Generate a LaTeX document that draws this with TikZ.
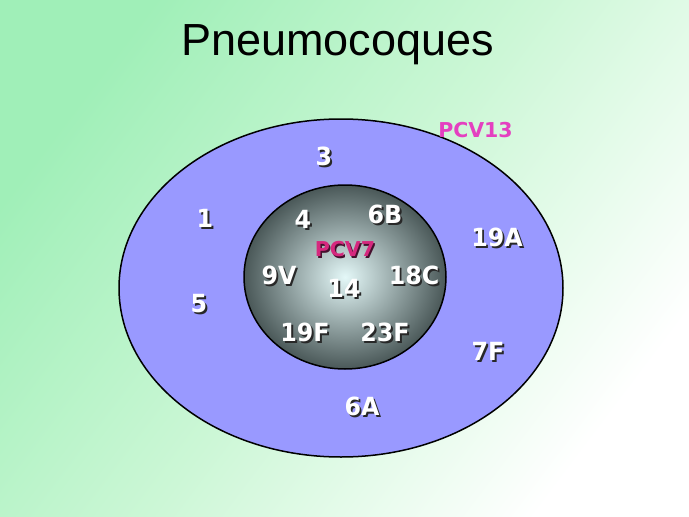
\documentclass[tikz,border=0pt]{standalone}
\usepackage{fontspec}
\usepackage{graphicx}
\setmainfont{Liberation Sans}
\newfontfamily\lblfont{DejaVu Sans}
\usetikzlibrary{shapes.geometric}
\definecolor{bgG}{RGB}{160,239,184}
\definecolor{bgM}{RGB}{204,247,214}
\definecolor{ringfill}{RGB}{153,153,255}
\definecolor{coreIn}{RGB}{228,248,248}
\definecolor{coreOut}{RGB}{74,88,88}
\definecolor{shadowgray}{RGB}{40,40,40}
\definecolor{pcvseven}{RGB}{214,40,126}
\definecolor{pcvsevensh}{RGB}{70,16,46}
\definecolor{pcvthirteen}{RGB}{228,64,192}
\tikzset{
  sero/.style={anchor=base, inner sep=0pt, text=white,
    font=\lblfont\bfseries\fontsize{25}{25}\selectfont},
  vlabel/.style={anchor=base, inner sep=0pt,
    font=\lblfont\bfseries\fontsize{20.5}{20.5}\selectfont},
}
% text with a drop shadow, set in one box
\newcommand\shadowed[3]{%
  \rlap{\hspace{#2}\raisebox{-#2}{\textcolor{#1}{#3}}}#3}
\newcommand\serolabel[4]{%
  \node[sero] (#1) at (#2,#3) {\scalebox{0.95}[1]{\shadowed{shadowgray}{2pt}{#4}}};
}
\begin{document}
\begin{tikzpicture}[x=1pt,y=-1pt]
\useasboundingbox (0,0) rectangle (689,517);
\shade[top color=bgG, bottom color=white, middle color=bgM, shading angle=53]
  (0,0) rectangle (689,517);
\node[anchor=base, inner sep=0pt, font=\fontsize{45}{45}\selectfont] (title) at (337.5,55) {Pneumocoques};
\node[ellipse, draw=black, line width=1.5pt, fill=ringfill, minimum width=444pt, minimum height=338pt, inner sep=0pt] (outer) at (341,288) {};
\node[ellipse, draw=black, line width=1.5pt, inner color=coreIn, outer color=coreOut, minimum width=202pt, minimum height=184pt, inner sep=0pt] (inner) at (345,277) {};
\node[vlabel, text=pcvthirteen] (pcv13) at (475.5,137.3) {PCV13};
\node[vlabel, text=pcvseven] (pcv7) at (345,256.7) {\shadowed{pcvsevensh}{1.5pt}{PCV7}};
\serolabel{s3}{324}{165}{3}
\serolabel{s1}{205}{227}{1}
\serolabel{s4}{303}{228}{4}
\serolabel{s6B}{385}{223}{6B}
\serolabel{s19A}{497}{246.5}{19A}
\serolabel{s9V}{279}{284}{9V}
\serolabel{s18C}{414}{284}{18C}
\serolabel{s14}{344}{297}{14}
\serolabel{s5}{199}{312.5}{5}
\serolabel{s19F}{305}{341}{19F}
\serolabel{s23F}{385}{341}{23F}
\serolabel{s7F}{488}{360}{7F}
\serolabel{s6A}{362}{415.5}{6A}
\end{tikzpicture}
\end{document}
